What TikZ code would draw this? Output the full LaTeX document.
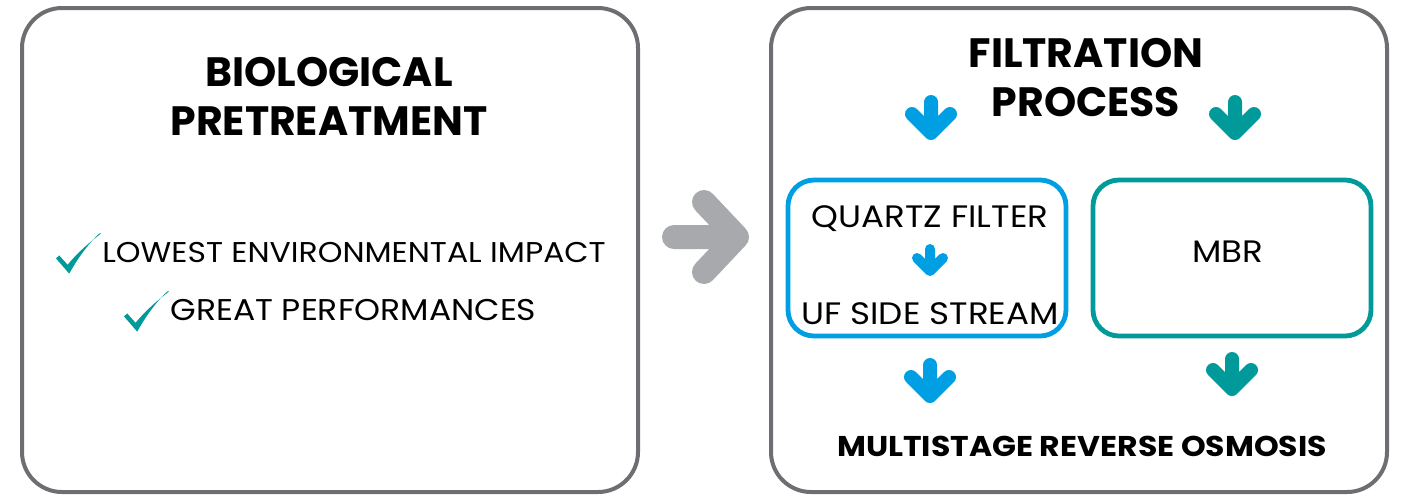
\documentclass[tikz,border=0pt]{standalone}
\usepackage{fontspec}
\setmainfont{Poppins}[FakeStretch=1.1]
\newfontfamily\headfont{Poppins}
\usetikzlibrary{positioning}

\definecolor{frame}{HTML}{6D6E71}
\definecolor{greyarrow}{HTML}{A7A9AC}
\definecolor{qblue}{HTML}{009FE3}
\definecolor{mteal}{HTML}{009A9A}

% down arrow icon: x, y of shaft top, y of tip, half head, line width, colour
\newcommand{\dnarrow}[6]{%
  \draw[line width=#5, line cap=round, line join=round, #6]
    (#1,#2) -- (#1,#3)
    (#1-#4,#3-#4) -- (#1,#3) -- (#1+#4,#3-#4);}

\begin{document}
\begin{tikzpicture}[x=0.5pt,y=-0.5pt]
  \tikzstyle{panel}=[draw=frame,line width=2pt,rounded corners=20pt,
                     minimum width=308pt,minimum height=242pt]
  \tikzstyle{stage}=[line width=2.4pt,rounded corners=13pt,
                     minimum width=139pt,minimum height=78pt]
  \tikzstyle{title}=[font=\headfont\fontsize{20.5}{24.5}\selectfont\bfseries,align=center]
  \tikzstyle{item}=[font=\fontsize{15.5}{18}\selectfont,inner sep=0pt]
  \tikzstyle{tick}=[fill=mteal]

  \useasboundingbox (0,0) rectangle (1404,495);

  % panels
  \node[panel] (bio)  at (330,250)  {};
  \node[panel] (filt) at (1079,250) {};

  \node[title] (biotitle)  at (329,96) {BIOLOGICAL\\PRETREATMENT};
  \node[title] (filttitle) at (1086,78) {FILTRATION\\PROCESS};

  % benefits
  \node[item,anchor=base west,font=\fontsize{14.3}{16}\selectfont]
    (impact) at (102,262) {LOWEST ENVIRONMENTAL IMPACT};
  \node[item,anchor=base west,font=\fontsize{15}{18}\selectfont]
    (perf)   at (170,320) {GREAT PERFORMANCES};
  \foreach \n in {impact,perf}
    \fill[tick,shift={(\n.base west)},x=1pt,y=1pt]
      (-23,1.8) -- (-21.4,3.3) -- (-17.2,-1.4)
      .. controls (-12,5) and (-6,10) .. (-0.4,14.3)
      -- (-1.3,14.3)
      .. controls (-7,9) and (-12,2) .. (-16.4,-5.8)
      -- cycle;

  % grey arrow between panels
  \draw[greyarrow,line width=12pt,line cap=round,line join=round]
    (674,237) -- (737,237)
    (704,202) -- (737,237) -- (704,272);

  % filtration lines
  \node[stage,draw=qblue] (quartz) at (927,258) {};
  \node[stage,draw=mteal] (mbr)    at (1232,258) {};
  \node[item,anchor=base] (qf)  at (930,227) {QUARTZ FILTER};
  \node[item,anchor=base] (uf)  at (930,324) {UF SIDE STREAM};
  \node[item,anchor=base] (mb)  at (1228,262) {MBR};
  \node[item,anchor=base,font=\fontsize{14.3}{17}\selectfont\bfseries]
    (ro) at (1082,456) {MULTISTAGE REVERSE OSMOSIS};

  \dnarrow{931}{102}{133}{19}{7pt}{qblue}
  \dnarrow{1235}{102}{133}{19}{7pt}{mteal}
  \dnarrow{930}{249}{271}{13}{5pt}{qblue}
  \dnarrow{930}{365}{396}{19}{7pt}{qblue}
  \dnarrow{1232}{359}{389}{19}{7pt}{mteal}
\end{tikzpicture}
\end{document}
